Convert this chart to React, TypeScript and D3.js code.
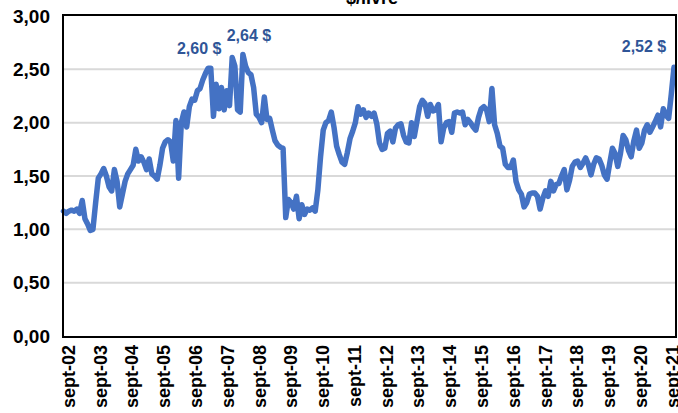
import React from "react";
import * as d3 from "d3";

const values: number[] = [
  1.17, 1.15, 1.17, 1.18, 1.17, 1.19, 1.15, 1.27, 1.10, 1.05, 0.99, 1.00,
  1.25, 1.48, 1.52, 1.57, 1.50, 1.40, 1.36, 1.56, 1.45, 1.21, 1.33, 1.45,
  1.52, 1.56, 1.60, 1.75, 1.64, 1.68, 1.63, 1.56, 1.66, 1.52, 1.50, 1.47,
  1.60, 1.76, 1.82, 1.84, 1.82, 1.64, 2.02, 1.48, 2.00, 2.10, 1.96, 2.15,
  2.22, 2.21, 2.30, 2.32, 2.40, 2.46, 2.51, 2.51, 2.06, 2.36, 2.13, 2.33,
  2.12, 2.30, 2.16, 2.61, 2.53, 2.12, 2.10, 2.64, 2.53, 2.47, 2.45, 2.33,
  2.08, 2.05, 2.00, 2.24, 2.03, 2.04, 1.93, 1.83, 1.79, 1.77, 1.76, 1.11,
  1.28, 1.25, 1.19, 1.31, 1.10, 1.23, 1.14, 1.19, 1.18, 1.20, 1.17, 1.37,
  1.68, 1.93, 2.00, 2.02, 2.10, 1.96, 1.78, 1.70, 1.63, 1.61, 1.72, 1.85,
  1.92, 2.00, 2.15, 2.08, 2.12, 2.05, 2.09, 2.06, 2.09, 1.99, 1.81, 1.75,
  1.76, 1.90, 1.92, 1.82, 1.95, 1.98, 1.99, 1.88, 1.82, 1.81, 2.00, 1.87,
  2.01, 2.15, 2.21, 2.18, 2.06, 2.17, 2.11, 2.12, 2.17, 1.82, 1.95, 2.00,
  2.01, 1.91, 2.09, 2.10, 2.09, 2.10, 1.98, 2.03, 2.00, 1.96, 1.93, 2.05,
  2.13, 2.15, 2.12, 2.01, 2.32, 1.98, 1.90, 1.78, 1.76, 1.61, 1.58, 1.58,
  1.65, 1.45, 1.37, 1.33, 1.21, 1.25, 1.33, 1.34, 1.34, 1.31, 1.19, 1.29,
  1.36, 1.31, 1.45, 1.36, 1.42, 1.43, 1.50, 1.56, 1.37, 1.46, 1.59, 1.63,
  1.64, 1.58, 1.62, 1.67, 1.61, 1.51, 1.61, 1.67, 1.66, 1.60, 1.51, 1.47,
  1.62, 1.76, 1.71, 1.59, 1.71, 1.88, 1.84, 1.74, 1.68, 1.83, 1.93, 1.76,
  1.81, 1.93, 1.98, 1.91, 1.96, 2.01, 2.07, 1.96, 2.13, 2.07, 2.04, 2.27,
  2.52,
];

const xTickLabels: string[] = [
  "sept-02", "sept-03", "sept-04", "sept-05", "sept-06", "sept-07", "sept-08",
  "sept-09", "sept-10", "sept-11", "sept-12", "sept-13", "sept-14", "sept-15",
  "sept-16", "sept-17", "sept-18", "sept-19", "sept-20", "sept-21",
];

const yTicks: number[] = [0, 0.5, 1, 1.5, 2, 2.5, 3];

const annotIndex: number[] = [63, 67, 228];
const annotText: string[] = ["2,60 $", "2,64 $", "2,52 $"];
const annotDx: number[] = [-33, 6, -30];
const annotDy: number[] = [-4, -13, -15];

const title = "$/livre";

export default function App() {
  const W = 678;
  const H = 413;
  const left = 63;
  const right = 676;
  const top = 16;
  const bottom = 336;

  const x = d3.scaleLinear().domain([0, values.length - 1]).range([63.5, 674]);
  const xLab = d3.scaleLinear().domain([0, values.length - 1]).range([68.5, 672.5]);
  const y = d3.scaleLinear().domain([0, 3]).range([bottom, top]);

  const line = d3
    .line<number>()
    .x((_, i) => x(i))
    .y((d) => y(d))
    .curve(d3.curveLinear);

  const fmt = (v: number) => v.toFixed(2).replace(".", ",");
  const font = "'Liberation Sans', Arial, sans-serif";

  return (
    <svg
      width={W}
      height={H}
      style={{ position: "absolute", left: 0, top: 0, background: "#fff" }}
      fontFamily={font}
    >
      <rect x={0} y={0} width={W} height={H} fill="#fff" />
      <text x={372} y={4} textAnchor="middle" fontWeight="bold" fontSize={18} fill="#000">
        {title}
      </text>
      {yTicks.map((t) => (
        <g key={t}>
          {t > 0 && t < 3 && (
            <line x1={left} x2={right} y1={y(t)} y2={y(t)} stroke="#d9d9d9" strokeWidth={2} />
          )}
          <text
            x={50}
            y={y(t)}
            dy="0.35em"
            textAnchor="end"
            fontWeight="bold"
            fontSize={19}
            fill="#000"
          >
            {fmt(t)}
          </text>
        </g>
      ))}
      <path
        d={line(values) || ""}
        fill="none"
        stroke="#4472C4"
        strokeWidth={5.5}
        strokeLinejoin="round"
        strokeLinecap="round"
      />
      <rect
        x={left}
        y={top - 1}
        width={right - left}
        height={bottom - top + 2}
        fill="none"
        stroke="#000"
        strokeWidth={2}
      />
      {xTickLabels.map((lab, k) => (
        <text
          key={lab}
          transform={`translate(${xLab(k * 12)},345) rotate(-90)`}
          dy="0.35em"
          textAnchor="end"
          fontWeight="bold"
          fontSize={18}
          fill="#000"
        >
          {lab}
        </text>
      ))}
      {annotIndex.map((idx, k) => (
        <text
          key={k}
          x={x(idx) + annotDx[k]}
          y={y(values[idx]) + annotDy[k]}
          textAnchor="middle"
          fontWeight="bold"
          fontSize={16}
          fill="#2F5597"
        >
          {annotText[k]}
        </text>
      ))}
    </svg>
  );
}
